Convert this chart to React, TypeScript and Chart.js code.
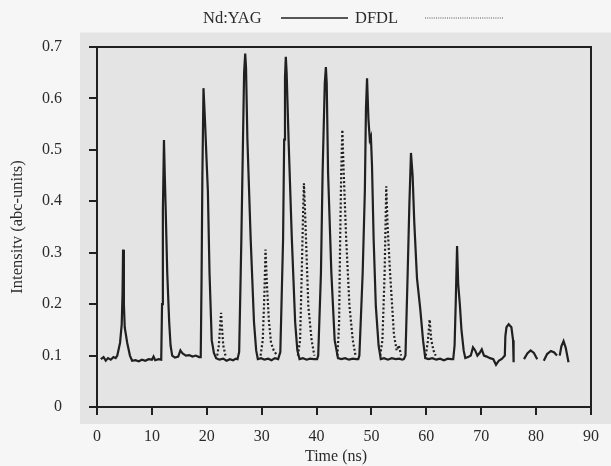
import React, { useEffect, useRef } from "react";
import { Chart, registerables } from "chart.js";

Chart.register(...registerables);

const xTickLabels = ["0", "10", "20", "30", "40", "50", "60", "70", "80", "90"];
const yTickLabels = ["0", "0.1", "0.2", "0.3", "0.4", "0.5", "0.6", "0.7"];

const seriesNames = ["Nd:YAG", "DFDL"];
const xTitle = "Time (ns)";
const yTitle = "Intensitv (abc-units)";

// Nd:YAG trace (solid) — null marks a gap in the trace
const yagTime = [
  0.7, 1.2, 1.6, 2.0, 2.5, 3.0, 3.4, 3.7, 4.2, 4.5, 4.65, 4.75, 4.9, 5.05, 5.5, 6.0, 6.4,
  7.0, 7.6, 8.2, 8.8, 9.4, 10.0, 10.3, 10.6, 11.2, 11.7, 11.85, 12.0, 12.2, 12.35, 12.5, 12.8,
  13.15, 13.4, 13.7, 14.2, 14.8, 15.2, 15.6, 16.2, 16.8, 17.4, 18.0, 18.6, 18.9, 19.05, 19.2,
  19.4, 19.7, 20.0, 20.2, 20.5, 20.9, 21.3, 21.7, 22.3, 23.0, 23.6, 24.2, 24.8, 25.3, 25.6,
  25.9, 26.3, 26.6, 26.8, 27.0, 27.15, 27.4, 28.0, 28.6, 29.0, 29.3, 29.9, 30.5, 31.2, 31.8,
  32.4, 33.0, 33.4, 33.9, 34.1, 34.25, 34.4, 34.55, 34.9, 35.5, 36.1, 36.5, 36.9, 37.5, 38.2,
  38.8, 39.5, 40.1, 40.3, 40.8, 41.1, 41.5, 41.7, 41.85, 42.1, 42.7, 43.3, 43.9, 44.5, 45.2,
  45.9, 46.6, 47.2, 47.6, 47.8, 48.4, 48.8, 49.0, 49.2, 49.45, 49.7, 49.9, 50.1, 50.4, 50.8,
  51.3, 51.7, 52.3, 53.0, 53.7, 54.4, 55.1, 55.6, 55.9, 56.2, 56.6, 56.9, 57.2, 57.5, 57.8,
  58.3, 58.9, 59.4, 59.8, 60.4, 61.1, 61.8, 62.5, 63.2, 63.9, 64.5, 64.9, 65.15, 65.35, 65.6,
  65.8, 66.1, 66.4, 66.8, 67.1, 67.6, 68.1, 68.5, 68.9, 69.3, 69.7, 70.1, 70.5, 71.0, 71.6,
  72.2, 72.7, 73.2, 73.8, 74.3, 74.4, 74.6, 75.0, 75.5, 75.8, 75.9,
  76.8,
  77.8, 78.4, 79.0, 79.6, 80.2,
  80.8,
  81.4, 82.0, 82.7, 83.3, 83.8,
  84.0,
  84.3, 84.6, 85.0, 85.4, 85.9,
];
const yagIntensity = [
  0.093, 0.097, 0.09, 0.095, 0.092, 0.097, 0.095, 0.1, 0.125, 0.16, 0.22, 0.306, 0.2, 0.155, 0.125, 0.1, 0.09,
  0.091, 0.089, 0.092, 0.09, 0.093, 0.092, 0.098, 0.091, 0.093, 0.092, 0.2, 0.38, 0.519, 0.45, 0.39, 0.26,
  0.165, 0.12, 0.1, 0.096, 0.098, 0.11, 0.104, 0.1, 0.101, 0.098, 0.1, 0.097, 0.097, 0.25, 0.45,
  0.62, 0.55, 0.47, 0.42, 0.26, 0.13, 0.105, 0.095, 0.092, 0.094, 0.09, 0.093, 0.091, 0.094, 0.093,
  0.107, 0.326, 0.52, 0.65, 0.687, 0.66, 0.52, 0.326, 0.165, 0.11, 0.093, 0.095, 0.092, 0.094, 0.091,
  0.095, 0.093, 0.107, 0.326, 0.52, 0.64, 0.681, 0.65, 0.52, 0.326, 0.165, 0.11, 0.093, 0.095, 0.092,
  0.094, 0.093, 0.093, 0.1, 0.26, 0.455, 0.63, 0.661, 0.63, 0.455, 0.26, 0.13, 0.095, 0.093, 0.095,
  0.092, 0.094, 0.093, 0.093, 0.1, 0.26, 0.42, 0.58, 0.639, 0.56, 0.52, 0.526, 0.47, 0.326, 0.196,
  0.12, 0.093, 0.095, 0.092, 0.095, 0.093, 0.094, 0.092, 0.093, 0.1, 0.26, 0.39, 0.494, 0.45, 0.36,
  0.25, 0.19, 0.13, 0.095, 0.093, 0.095, 0.092, 0.094, 0.091, 0.094, 0.093, 0.093, 0.12, 0.2, 0.313,
  0.24, 0.2, 0.15, 0.11, 0.095, 0.097, 0.1, 0.116, 0.11, 0.1, 0.105, 0.112, 0.1, 0.098, 0.095,
  0.093, 0.082, 0.09, 0.094, 0.1, 0.138, 0.155, 0.161, 0.155, 0.13, 0.087,
  null,
  0.093, 0.104, 0.11, 0.105, 0.093,
  null,
  0.09, 0.103, 0.109, 0.106, 0.1,
  null,
  0.1, 0.118, 0.128, 0.115, 0.087,
];

// DFDL trace (dotted)
const dfdlTime = [
  21.9, 22.2, 22.45, 22.6, 22.8, 23.0, 23.4,
  26.0,
  29.8, 30.2, 30.5, 30.7, 30.95, 31.3, 31.7, 32.2, 32.8,
  35.0,
  36.6, 37.0, 37.3, 37.55, 37.7, 37.9, 38.1, 38.5, 39.1, 39.6,
  42.0,
  43.8, 44.1, 44.3, 44.5, 44.7, 44.9, 45.4, 46.0, 46.6, 47.1,
  49.5,
  51.6, 52.0, 52.4, 52.7, 52.95, 53.4, 54.1, 54.6, 55.0, 55.4,
  58.0,
  59.9, 60.3, 60.6, 60.9, 61.3, 61.7,
];
const dfdlIntensity = [
  0.1, 0.12, 0.16, 0.183, 0.15, 0.12, 0.1,
  null,
  0.1, 0.13, 0.22, 0.306, 0.24, 0.17, 0.125, 0.11, 0.1,
  null,
  0.1, 0.13, 0.26, 0.38, 0.435, 0.38, 0.32, 0.196, 0.13, 0.1,
  null,
  0.1, 0.16, 0.326, 0.46, 0.539, 0.47, 0.326, 0.196, 0.13, 0.1,
  null,
  0.1, 0.13, 0.26, 0.429, 0.35, 0.26, 0.14, 0.11, 0.12, 0.1,
  null,
  0.1, 0.13, 0.17, 0.13, 0.11, 0.1,
];

const INK = "#202020";
const TEXT = "#2b2b2b";
const FONT = "'Liberation Serif', 'DejaVu Serif', serif";

const backgroundPlugin = {
  id: "scanBackground",
  beforeDraw(chart: any) {
    const { ctx, chartArea, width, height } = chart;
    ctx.save();
    ctx.fillStyle = "#f6f6f6";
    ctx.fillRect(0, 0, width, height);
    ctx.fillStyle = "#e4e4e4";
    const l = chartArea.left - 17;
    const t = chartArea.top - 14.5;
    ctx.fillRect(l, t, width - l, chartArea.bottom + 17 - t);
    ctx.restore();
  },
};

const framePlugin = {
  id: "frame",
  afterDraw(chart: any) {
    const { ctx, chartArea } = chart;
    ctx.save();
    ctx.strokeStyle = INK;
    ctx.lineWidth = 2;
    ctx.strokeRect(chartArea.left, chartArea.top, chartArea.right - chartArea.left, chartArea.bottom - chartArea.top);
    ctx.restore();
  },
};

const textPlugin = {
  id: "textFirstLegendAndTitle",
  afterDraw(chart: any) {
    const { ctx, chartArea } = chart;
    ctx.save();
    ctx.fillStyle = TEXT;
    ctx.textBaseline = "middle";
    // x-axis title, placed as in the reference (slightly left of centre)
    ctx.font = `16px ${FONT}`;
    ctx.textAlign = "center";
    ctx.fillText(xTitle, chartArea.left + 239, 457);
    // legend: label first, then line sample
    ctx.font = `16.5px ${FONT}`;
    ctx.textAlign = "left";
    const y = 19;
    ctx.fillText(seriesNames[0], 203, y);
    ctx.strokeStyle = INK;
    ctx.lineWidth = 1.3;
    ctx.beginPath();
    ctx.moveTo(281, y - 1);
    ctx.lineTo(348, y - 1);
    ctx.stroke();
    ctx.fillText(seriesNames[1], 355, y);
    ctx.strokeStyle = "#555";
    ctx.lineWidth = 1;
    ctx.setLineDash([1, 1.2]);
    ctx.beginPath();
    ctx.moveTo(425, y - 1);
    ctx.lineTo(503, y - 1);
    ctx.stroke();
    ctx.restore();
  },
};

export default function App() {
  const canvasRef = useRef<HTMLCanvasElement | null>(null);

  useEffect(() => {
    const canvas = canvasRef.current;
    if (!canvas) return;
    const yagData = yagTime.map((t, i) => ({ x: t, y: yagIntensity[i] }));
    const dfdlData = dfdlTime.map((t, i) => ({ x: t, y: dfdlIntensity[i] }));

    const chart = new Chart(canvas, {
      type: "line",
      data: {
        datasets: [
          {
            label: seriesNames[0],
            data: yagData as any,
            borderColor: INK,
            borderWidth: 2.2,
            pointRadius: 0,
            tension: 0,
            spanGaps: false,
            fill: false,
          },
          {
            label: seriesNames[1],
            data: dfdlData as any,
            borderColor: INK,
            borderWidth: 2.2,
            borderDash: [2, 2.2],
            pointRadius: 0,
            tension: 0,
            spanGaps: false,
            fill: false,
          },
        ],
      },
      options: {
        animation: false,
        responsive: false,
        events: [],
        layout: { padding: { top: 47, right: 14, left: 0, bottom: 0 } },
        plugins: {
          legend: { display: false },
          tooltip: { enabled: false },
        },
        scales: {
          x: {
            type: "linear",
            min: 0,
            max: 90,
            afterFit(scale: any) {
              scale.height = 59;
            },
            ticks: {
              stepSize: 10,
              padding: 12,
              color: TEXT,
              font: { family: FONT, size: 16 },
              maxRotation: 0,
              callback: (_v: any, i: number) => xTickLabels[i],
            },
            grid: {
              drawOnChartArea: false,
              drawTicks: true,
              tickLength: 8,
              color: INK,
              lineWidth: 2,
            },
            border: { display: true, color: INK, width: 2 },
            title: { display: false },
          },
          y: {
            type: "linear",
            min: 0,
            max: 0.7,
            afterFit(scale: any) {
              scale.width = 97;
            },
            ticks: {
              stepSize: 0.1,
              padding: 27,
              color: TEXT,
              font: { family: FONT, size: 16 },
              callback: (_v: any, i: number) => yTickLabels[i],
            },
            grid: {
              drawOnChartArea: false,
              drawTicks: true,
              tickLength: 8,
              color: INK,
              lineWidth: 2,
            },
            border: { display: true, color: INK, width: 2 },
            title: {
              display: true,
              text: yTitle,
              color: TEXT,
              font: { family: FONT, size: 16.5 },
              padding: { top: 8, bottom: 0 },
            },
          },
        },
      },
      plugins: [backgroundPlugin, framePlugin, textPlugin],
    });
    return () => chart.destroy();
  }, []);

  return (
    <div style={{ position: "fixed", left: 0, top: 0, width: 611, height: 466 }}>
      <canvas ref={canvasRef} width={611} height={466} />
    </div>
  );
}
